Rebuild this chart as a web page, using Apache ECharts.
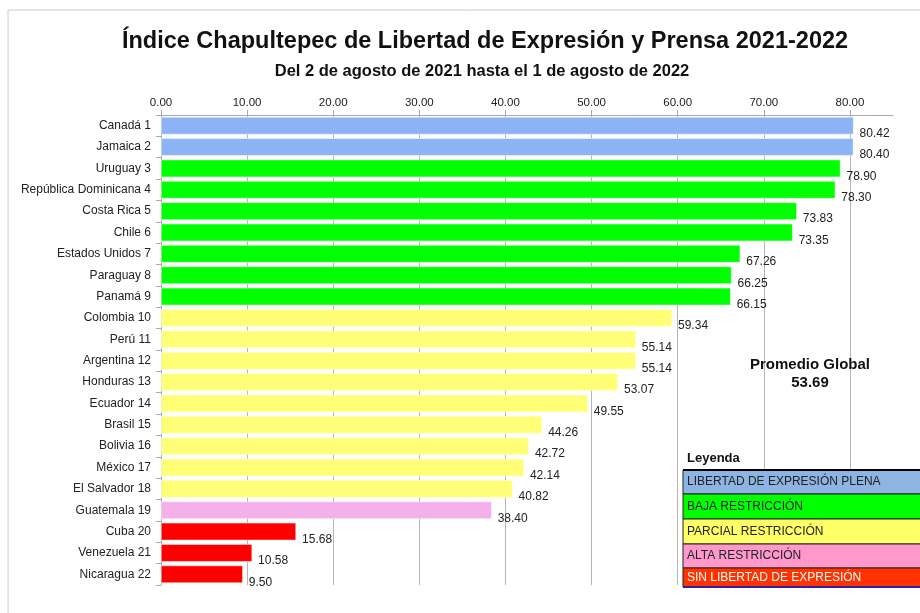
<!DOCTYPE html>
<html><head><meta charset="utf-8">
<script src="https://cdn.jsdelivr.net/npm/echarts@6/dist/echarts.min.js"></script>
<style>html,body{margin:0;padding:0;background:#fff}#c{width:920px;height:613px}</style>
</head><body><div id="c"></div>
<script>
const countries = ["Canadá 1","Jamaica 2","Uruguay 3","República Dominicana 4","Costa Rica 5","Chile 6","Estados Unidos 7","Paraguay 8","Panamá 9","Colombia 10","Perú 11","Argentina 12","Honduras 13","Ecuador 14","Brasil 15","Bolivia 16","México 17","El Salvador 18","Guatemala 19","Cuba 20","Venezuela 21","Nicaragua 22"];
const scores = [80.42,80.40,78.90,78.30,73.83,73.35,67.26,66.25,66.15,59.34,55.14,55.14,53.07,49.55,44.26,42.72,42.14,40.82,38.40,15.68,10.58,9.50];
const levels = [0,0,1,1,1,1,1,1,1,2,2,2,2,2,2,2,2,2,3,4,4,4];
const levelNames = ["LIBERTAD DE EXPRESIÓN PLENA","BAJA RESTRICCIÓN","PARCIAL RESTRICCIÓN","ALTA RESTRICCIÓN","SIN LIBERTAD DE EXPRESIÓN"];
const barColors = ["#8db3f7","#00ff00","#ffff77","#f5b0ea","#ff0000"];
const legendColors = ["#8db4e2","#00ff00","#ffff66","#ff99cc","#ff3300"];
const average = 53.69;

const chart = echarts.init(document.getElementById('c'));
const legendGraphics = [];
const lx = 683, ly = 470, lw = 240, rowH = [24, 25, 25, 24, 19];
let yy = ly;
levelNames.forEach((n, i) => {
  legendGraphics.push({type:'rect', shape:{x:lx, y:yy, width:lw, height:rowH[i]}, style:{fill:legendColors[i], stroke:'#222', lineWidth:1}, z:10});
  legendGraphics.push({type:'text', x:lx+4, y:yy+rowH[i]/2, style:{text:n, fill: i===4?'#fff':'#222', font:'12px "Liberation Sans Narrow", "Liberation Sans", sans-serif', verticalAlign:'middle'}, z:11});
  yy += rowH[i];
});
legendGraphics.push({type:'line', shape:{x1:lx, y1:ly, x2:lx+lw, y2:ly}, style:{stroke:'#000', lineWidth:2}, z:12});
legendGraphics.push({type:'line', shape:{x1:lx, y1:yy, x2:lx+lw, y2:yy}, style:{stroke:'#3020a0', lineWidth:2}, z:12});

chart.setOption({
  animation:false,
  title:[
    {text:'Índice Chapultepec de Libertad de Expresión y Prensa 2021-2022', left:480, top:25, textAlign:'center', textStyle:{fontFamily:'Liberation Sans, Arial', fontWeight:'bold', fontSize:23.5, color:'#111'}},
    {text:'Del 2 de agosto de 2021 hasta el 1 de agosto de 2022', left:477, top:58, textAlign:'center', textStyle:{fontFamily:'Liberation Sans, Arial', fontWeight:'bold', fontSize:16.5, color:'#111'}}
  ],
  grid:{left:161, top:115, right:27, bottom:28},
  xAxis:{type:'value', position:'top', min:0, max:85, interval:10,
    axisLine:{show:true, lineStyle:{color:'#aaa'}},
    axisTick:{show:true, length:5, lineStyle:{color:'#aaa'}},
    splitLine:{show:true, showMaxLine:false, lineStyle:{color:'#b5b5b5', width:1}},
    axisLabel:{showMaxLabel:false, formatter:v=>v.toFixed(2), color:'#222', fontSize:11.5, fontFamily:'Liberation Sans, Arial', margin:6}},
  yAxis:{type:'category', inverse:true, data:countries,
    axisLine:{show:true, lineStyle:{color:'#aaa'}},
    axisTick:{show:true, length:5, lineStyle:{color:'#aaa'}},
    axisLabel:{color:'#222', fontSize:12, fontFamily:'Liberation Sans, Arial', margin:10}},
  series:[{type:'bar', barCategoryGap:'18%',
    data:scores.map((v,i)=>({value:v, itemStyle:{color:barColors[levels[i]], borderColor:'#fff', borderWidth:0.5}})),
    label:{show:true, position:'right', distance:6, offset:[0,8], formatter:p=>p.value.toFixed(2), color:'#222', fontSize:12, fontFamily:'Liberation Sans, Arial'}
  }],
  graphic:[
    {type:'rect', shape:{x:8, y:10, width:930, height:620}, style:{fill:'none', stroke:'#ccc', lineWidth:1}, z:-1},
    {type:'text', x:810, y:374, style:{text:'Promedio Global\n' + average.toFixed(2), fill:'#111', font:'bold 15px "Liberation Sans", Arial', align:'center', verticalAlign:'middle', lineHeight:18}, z:10},
    {type:'text', x:687, y:458, style:{text:'Leyenda', fill:'#111', font:'bold 13px "Liberation Sans Narrow", "Liberation Sans", sans-serif', verticalAlign:'middle'}, z:10},
    ...legendGraphics
  ]
});
</script></body></html>
